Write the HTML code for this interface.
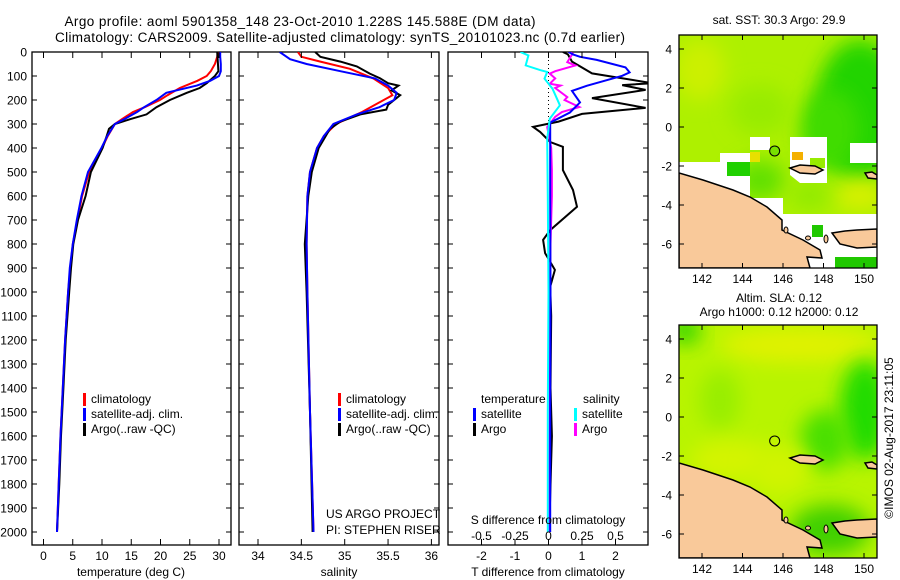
<!DOCTYPE html>
<html><head><meta charset="utf-8"><style>
html,body{margin:0;padding:0;background:#fff;}
svg{display:block;font-family:"Liberation Sans",sans-serif;}
text{fill:#000;}
</style></head><body>
<svg id="fig" width="900" height="580" viewBox="0 0 900 580">
<defs>
<clipPath id="cp1"><rect x="32" y="52" width="199" height="493"/></clipPath>
<clipPath id="cp2"><rect x="239" y="52" width="200" height="493"/></clipPath>
<clipPath id="cp3"><rect x="448" y="52" width="200" height="493"/></clipPath>
<clipPath id="cpm1"><rect x="679" y="35" width="198" height="233"/></clipPath>
<clipPath id="cpm2"><rect x="679" y="325" width="198" height="233"/></clipPath>
<filter id="bl" x="-50%" y="-50%" width="200%" height="200%"><feGaussianBlur stdDeviation="10"/></filter>
</defs>
<text x="300" y="26" font-size="13.5" text-anchor="middle" textLength="471">Argo profile: aoml 5901358_148 23-Oct-2010 1.228S 145.588E (DM data)</text>
<text x="340" y="42" font-size="13.5" text-anchor="middle" textLength="570">Climatology: CARS2009. Satellite-adjusted climatology: synTS_20101023.nc (0.7d earlier)</text>
<g id="panels"></g>
<g id="maps"></g>
<text transform="translate(893,438) rotate(-90)" font-size="12" text-anchor="middle">©IMOS 02-Aug-2017 23:11:05</text>
</svg>
<script>
// ---- profile data ----
const tDepthClim = [0,20,50,80,100,120,150,180,200,230,250,280,300,350,400,500,600,700,800,900,1000,1200,1400,1600,1800,2000];
const tClim      = [29.8,29.7,29.3,28.6,27.9,26.3,23.3,21.2,19.9,17.3,15.3,13.4,12.2,11.0,10.0,7.8,6.6,5.8,5.0,4.6,4.2,3.7,3.3,2.9,2.6,2.3];
const tDepthSat  = [0,20,50,80,100,120,140,170,200,230,250,280,300,350,400,500,600,700,800,900,1000,1200,1400,1600,1800,2000];
const tSat       = [30.2,30.2,30.3,30.3,30.0,28.5,26.2,21.0,19.3,17.2,16.0,13.8,12.2,10.9,9.9,7.6,6.5,5.7,5.0,4.5,4.2,3.7,3.3,2.9,2.6,2.3];
const tDepthArgo = [0,40,80,100,130,150,170,200,230,260,280,300,320,350,400,500,600,700,800,900,1000,1200,1400,1600,1800,2000];
const tArgo      = [29.7,29.8,29.9,29.3,27.9,26.7,24.5,21.6,19.3,17.6,14.8,12.2,11.2,10.8,10.1,8.1,7.2,5.9,5.1,4.7,4.4,3.8,3.4,3.0,2.7,2.3];
const sDepthClim = [0,20,40,70,110,150,180,210,250,300,350,400,500,600,800,1000,1500,2000];
const sClim      = [34.46,34.5,34.72,35.06,35.33,35.5,35.55,35.4,35.2,34.9,34.76,34.68,34.6,34.57,34.56,34.57,34.6,34.64];
const sDepthSat  = [0,30,50,80,110,140,170,200,230,260,300,350,400,500,600,800,1000,1500,2000];
const sSat       = [34.25,34.37,34.56,34.95,35.35,35.5,35.6,35.57,35.4,35.14,34.87,34.76,34.68,34.6,34.57,34.56,34.57,34.6,34.64];
const sDepthArgo = [0,20,40,60,90,110,130,140,160,180,220,240,260,290,320,400,500,600,800,1000,1500,2000];
const sArgo      = [34.66,34.72,34.95,35.14,35.29,35.41,35.5,35.62,35.54,35.64,35.5,35.48,35.18,34.95,34.83,34.7,34.62,34.58,34.54,34.56,34.6,34.63];
// differences from climatology
const dtDepthSat = [0,10,20,33,64,85,99,141,162,210,252,294,400,600,1000,1500,2000];
const dtSat      = [0.6,0.73,0.94,1.44,2.3,2.42,2.2,1.14,0.7,0.94,0.64,0.05,0.05,0.05,0.06,0.05,0.05];
const dtDepthArgo= [0,10,40,89,130,138,158,192,233,258,290,312,333,375,395,492,575,645,742,783,838,908,978,1100,1400,1600,1700,2000];
const dtArgo     = [0.43,0.58,0.7,1.3,3.1,2.2,2.9,1.3,2.9,1.0,0.3,-0.46,-0.25,0.05,0.43,0.43,0.73,0.85,0.05,-0.16,-0.1,0.19,0.05,0.08,0.06,0.1,0.08,0.02];
const dsDepthSat = [0,14,56,76,83,111,153,222,278,361,600,1000,1500,2000];
const dsSat      = [-0.21,-0.15,-0.17,-0.06,-0.01,-0.03,0.03,0.085,0.01,-0.01,-0.005,0,-0.005,-0.005];
const dsDepthArgo= [0,7,42,56,80,90,110,132,140,150,188,200,229,250,270,313,400,493,600,800,1000,1500,1900,2000];
const dsArgo     = [0.16,0.18,0.14,0.2,0.05,0.01,0.05,0.01,0.09,0.05,0.14,0.12,0.23,0.1,0.05,-0.01,0.02,0.025,0.025,0.015,0.01,0.01,0.005,0.005];
const depthTicks = [0,100,200,300,400,500,600,700,800,900,1000,1100,1200,1300,1400,1500,1600,1700,1800,1900,2000];
const tTicks = [0,5,10,15,20,25,30];
const sTicks = [34,34.5,35,35.5,36];
const dtTicks = [-2,-1,0,1,2];
const dsTicks = [-0.5,-0.25,0,0.25,0.5];
const sdTickLabels = ["-0.5","-0.25","0","0.25","0.5"];
const latTicks = [4,2,0,-2,-4,-6];
const lonTicks = [142,144,146,148,150];

const NS="http://www.w3.org/2000/svg";
function mk(tag,attrs,parent){const e=document.createElementNS(NS,tag);for(const k in attrs)e.setAttribute(k,attrs[k]);parent.appendChild(e);return e;}
const yD = d => 52 + d*0.24;
const xT = v => 43.5 + v*5.85;
const xS = v => 258 + (v-34)*86.7;
const xDT = v => 548.5 + v*33.5;
const xDS = v => 548.5 + v*134;
const G = document.getElementById('panels');

function line(par, depths, vals, fx, color, name){
  const pts = depths.map((d,i)=>fx(vals[i]).toFixed(1)+','+yD(d).toFixed(1)).join(' ');
  const p = mk('polyline',{points:pts,fill:'none',stroke:color,'stroke-width':2},par);
  
  
}
function panel(x0,w,cp,name){
  const g = mk('g',{},G);
  
  
  const r = mk('rect',{x:x0,y:52,width:w,height:493,fill:'none',stroke:'#000','stroke-width':1.3},g);
  
  
  const c = mk('g',{'clip-path':'url(#'+cp+')'},g);
  return {g,c};
}
function xticks(g,ticks,fx,labels,ly,fs){
  ticks.forEach((t,i)=>{
    const x=fx(t);
    mk('line',{x1:x,x2:x,y1:545,y2:539,stroke:'#000'},g);
    mk('line',{x1:x,x2:x,y1:52,y2:58,stroke:'#000'},g);
    const tx = mk('text',{x:x,y:ly,'font-size':fs||12,'text-anchor':'middle'},g);
    tx.textContent = labels?labels[i]:String(t);
    
    
  });
}
function yticks(g,x0,x1,labels){
  depthTicks.forEach(d=>{
    const y=yD(d);
    mk('line',{x1:x0,x2:x0+5,y1:y,y2:y,stroke:'#000'},g);
    mk('line',{x1:x1,x2:x1-5,y1:y,y2:y,stroke:'#000'},g);
    if(labels){
      const tx = mk('text',{x:27,y:y+4.5,'font-size':12,'text-anchor':'end'},g);
      tx.textContent = String(d);
      
      
    }
  });
}
function txt(g,x,y,s,name,anchor,fs){
  const t = mk('text',{x:x,y:y,'font-size':fs||12,'text-anchor':anchor||'start'},g);
  t.textContent=s;
  
  
  return t;
}
function legItem(g,x,y,color,label,name){
  const b = mk('rect',{x:x,y:y-10,width:3,height:13,fill:color},g);
  
  
  txt(g,x+8,y,label,name);
}

// Panel 1 temperature
let P = panel(32,199,'cp1','temperature-panel');
yticks(P.g,32,231,true);
xticks(P.g,tTicks,xT,null,560);
line(P.c,tDepthClim,tClim,xT,'#ff0000','temp-climatology-line');
line(P.c,tDepthArgo,tArgo,xT,'#000000','temp-argo-line');
line(P.c,tDepthSat,tSat,xT,'#0000ff','temp-satellite-line');
txt(P.g,131,576,'temperature (deg C)','temperature-axis-title','middle');
legItem(P.g,83,403,'#ff0000','climatology','legend-climatology');
legItem(P.g,83,418,'#0000ff','satellite-adj. clim.','legend-satellite');
legItem(P.g,83,433,'#000000','Argo(..raw -QC)','legend-argo');

// Panel 2 salinity
P = panel(239,200,'cp2','salinity-panel');
yticks(P.g,239,439,false);
xticks(P.g,sTicks,xS,null,560);
line(P.c,sDepthClim,sClim,xS,'#ff0000','sal-climatology-line');
line(P.c,sDepthArgo,sArgo,xS,'#000000','sal-argo-line');
line(P.c,sDepthSat,sSat,xS,'#0000ff','sal-satellite-line');
txt(P.g,339,576,'salinity','salinity-axis-title','middle');
legItem(P.g,338,403,'#ff0000','climatology','legend-climatology-2');
legItem(P.g,338,418,'#0000ff','satellite-adj. clim.','legend-satellite-2');
legItem(P.g,338,433,'#000000','Argo(..raw -QC)','legend-argo-2');
txt(P.g,326,518,'US ARGO PROJECT','project-credit');
txt(P.g,326,534,'PI: STEPHEN RISER','pi-credit');

// Panel 3 differences
P = panel(448,200,'cp3','difference-panel');
yticks(P.g,448,648,false);
xticks(P.g,dtTicks,xDT,null,560);
const zl = mk('line',{x1:548.5,x2:548.5,y1:52,y2:yD(330),stroke:'#000','stroke-dasharray':'1,3'},P.c);


line(P.c,dtDepthArgo,dtArgo,xDT,'#000000','tdiff-argo-line');
line(P.c,dsDepthArgo,dsArgo,xDS,'#ff00ff','sdiff-argo-line');
line(P.c,dtDepthSat,dtSat,xDT,'#0000ff','tdiff-satellite-line');
line(P.c,dsDepthSat,dsSat,xDS,'#00ffff','sdiff-satellite-line');
dsTicks.forEach((t,i)=>{
  const x=xDS(t);
  txt(P.g,x,540,sdTickLabels[i],'s-diff-tick-label','middle');
});
txt(P.g,548,524,'S difference from climatology','s-diff-axis-title','middle');
txt(P.g,548,576,'T difference from climatology','t-diff-axis-title','middle');
txt(P.g,481,403,'temperature','legend-temperature-header');
txt(P.g,583,403,'salinity','legend-salinity-header');
legItem(P.g,473,418,'#0000ff','satellite','legend-t-satellite');
legItem(P.g,473,433,'#000000','Argo','legend-t-argo');
legItem(P.g,574,418,'#00ffff','satellite','legend-s-satellite');
legItem(P.g,574,433,'#ff00ff','Argo','legend-s-argo');

// ---- maps ----
const M = document.getElementById('maps');
const xLon = v => 702 + (v-142)*20.25;
const yLat = (v,off) => 49 + off + (4-v)*19.5;
const landMain = "679,173 703,180 733,190 750,197 767,207 782,220 782,230 803,240 820,250 822,258 807,257 810,268 679,268";
const landIsl = "832,233 845,231 857,230 877,229 877,247 857,248 840,244";
const islA = "790,168 800,165 815,166 823,170 815,174 800,173";
const islB = "865,173 872,172 877,175 877,179 868,178";
function map(off,cp,name){
  const g = mk('g',{},M);
  
  
  const c = mk('g',{'clip-path':'url(#'+cp+')'},g);
  return {g,c};
}
function blob(par,cx,cy,rx,ry,col){mk('ellipse',{cx:cx,cy:cy,rx:rx,ry:ry,fill:col,filter:'url(#bl)'},par);}
function drawLand(par,off){
  const t = mk('g',{transform:'translate(0,'+off+')'},par);
  [landMain,landIsl,islA,islB].forEach(p=>{
    const e = mk('polygon',{points:p,fill:'#f9c99a',stroke:'#000','stroke-width':1.5},t);
    
    
  });
  mk('ellipse',{cx:786,cy:230,rx:2,ry:3,fill:'#f9c99a',stroke:'#000'},t);
  mk('ellipse',{cx:808,cy:238,rx:2.5,ry:2,fill:'#f9c99a',stroke:'#000'},t);
  mk('ellipse',{cx:826,cy:239,rx:2,ry:4,fill:'#f9c99a',stroke:'#000'},t);
}
function mapAxes(g,off){
  const top=35+off, bot=268+off;
  const r = mk('rect',{x:679,y:top,width:198,height:233,fill:'none',stroke:'#000','stroke-width':1.3},g);
  
  
  latTicks.forEach(v=>{
    const y=yLat(v,off);
    mk('line',{x1:679,x2:684,y1:y,y2:y,stroke:'#000'},g);
    mk('line',{x1:877,x2:872,y1:y,y2:y,stroke:'#000'},g);
    txt(g,672,y+4.5,String(v),'lat-tick-label','end');
  });
  lonTicks.forEach(v=>{
    const x=xLon(v);
    mk('line',{x1:x,x2:x,y1:bot,y2:bot-5,stroke:'#000'},g);
    mk('line',{x1:x,x2:x,y1:top,y2:top+5,stroke:'#000'},g);
    txt(g,x,bot+15,String(v),'lon-tick-label','middle');
  });
}
function white(par,pts){
  const w = mk('polygon',{points:pts,fill:'#fff'},par);
  
  
}
// top SST map
let m = map(0,'cpm1','sst-map');
mk('rect',{x:679,y:35,width:198,height:233,fill:'#aef000'},m.c);
blob(m.c,700,70,25,30,'#ccf000');
blob(m.c,860,110,45,70,'#22d400');
blob(m.c,830,130,30,40,'#40dc00');
blob(m.c,760,110,30,25,'#98ec00');
blob(m.c,860,195,25,15,'#d8f000');
blob(m.c,760,180,25,20,'#60e000');
blob(m.c,810,195,20,15,'#90ea00');
white(m.c,"679,162 727,162 727,176 750,176 750,198 783,198 783,214 877,214 877,268 679,268");
white(m.c,"720,153 750,153 750,162 720,162");
white(m.c,"750,137 770,137 770,150 750,150");
white(m.c,"790,137 827,137 827,183 800,183 790,175");
white(m.c,"850,143 877,143 877,163 850,163");
mk('rect',{x:727,y:162,width:23,height:14,fill:'#20d000'},m.c);
mk('rect',{x:792,y:152,width:11,height:8,fill:'#f4b000'},m.c);
mk('rect',{x:810,y:158,width:15,height:10,fill:'#98ec00'},m.c);
mk('rect',{x:750,y:152,width:10,height:10,fill:'#e8e000'},m.c);
mk('rect',{x:812,y:225,width:11,height:12,fill:'#20c800'},m.c);
mk('rect',{x:835,y:257,width:42,height:11,fill:'#20c800'},m.c);
drawLand(m.c,0);
mapAxes(m.g,0);
const c1=mk('circle',{cx:xLon(145.588),cy:yLat(-1.228,0),r:5,fill:'#78e000',stroke:'#000'},m.g);


txt(m.g,779,24,'sat. SST: 30.3 Argo: 29.9','sst-map-title','middle');

// bottom SLA map
m = map(290,'cpm2','sla-map');
mk('rect',{x:679,y:325,width:198,height:233,fill:'#b8f400'},m.c);
blob(m.c,800,345,80,18,'#e0f200');
blob(m.c,685,330,15,15,'#30d400');
blob(m.c,865,410,25,50,'#20dc00');
blob(m.c,825,440,25,30,'#48e000');
blob(m.c,720,400,20,30,'#98ee00');
blob(m.c,730,460,40,20,'#d4f400');
blob(m.c,780,470,30,25,'#d0f400');
blob(m.c,830,530,40,25,'#40d000');
drawLand(m.c,290);
mapAxes(m.g,290);
const c2=mk('circle',{cx:xLon(145.588),cy:yLat(-1.228,290),r:5,fill:'none',stroke:'#000'},m.g);


txt(m.g,779,302,'Altim. SLA: 0.12','sla-map-title','middle');
txt(m.g,779,316,'Argo h1000: 0.12 h2000: 0.12','sla-map-subtitle','middle');
</script>
</body></html>
